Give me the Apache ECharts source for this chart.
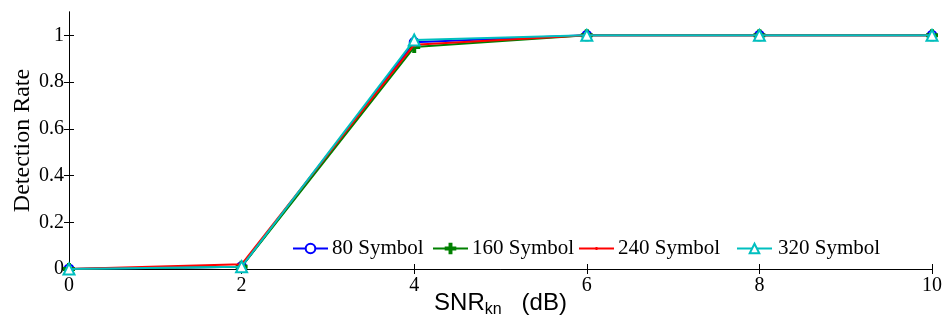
<!DOCTYPE html>
<html>
<head>
<meta charset="utf-8">
<script src="https://cdn.jsdelivr.net/npm/echarts@6/dist/echarts.min.js"></script>
<style>
  html, body { margin: 0; padding: 0; background: #fff; }
  #chart { width: 942px; height: 325px; }
</style>
</head>
<body>
<div id="chart"></div>
<script>
// SNR values (dB) on the x axis
const snr = [0, 2, 4, 6, 8, 10];
// Detection rate for each frame length
const rate80 = [0, 0.01, 0.97, 1, 1, 1];
const rate160 = [0, 0.01, 0.95, 1, 1, 1];
const rate240 = [0, 0.02, 0.96, 1, 1, 1];
const rate320 = [0, 0.01, 0.98, 1, 1, 1];
const seriesNames = ['80 Symbol', '160 Symbol', '240 Symbol', '320 Symbol'];
const xTicks = [0, 2, 4, 6, 8, 10];
const yTicks = [0, 0.2, 0.4, 0.6, 0.8, 1];

const serif = 'Liberation Serif';
const sans = 'Liberation Sans';
const chart = echarts.init(document.getElementById('chart'));

function pairs(vals) { return snr.map((x, i) => [x, vals[i]]); }

const styles = [
  { color: '#0000ff', symbol: 'circle', size: 9, fill: '#fff' },
  { color: '#008000', symbol: 'path://M4,0 L6,0 L6,4 L10,4 L10,6 L6,6 L6,10 L4,10 L4,6 L0,6 L0,4 L4,4 Z', size: 10, fill: '#008000' },
  { color: '#ff0000', symbol: 'circle', size: 3, fill: '#ff0000' },
  { color: '#00bfbf', symbol: 'triangle', size: 11, fill: '#fff' }
];
const data = [rate80, rate160, rate240, rate320];

const tickStyle = (vals) => ({
  show: true, inside: true, length: 5, customValues: vals,
  lineStyle: { color: '#000', width: 1 }
});
const lineStyle = { show: true, lineStyle: { color: '#000', width: 1 } };

// one legend box per entry so each can sit at its own offset
const legendLefts = [292, 432, 579, 736];
// the point marker is too small to show at legend scale, so draw line + dot
// (the degenerate edges at y=0 and y=12 keep the icon box at full height)
const dotLineIcon = 'path://M0,0 L35,0 L35,0 Z M0,12 L35,12 L35,12 Z ' +
  'M0,5 L35,5 L35,7 L0,7 Z M16.5,4.5 L18.5,4.5 L18.5,7.5 L16.5,7.5 Z';
const legends = seriesNames.map((name, i) => ({
  data: [i === 2
    ? { name, icon: dotLineIcon, itemStyle: { color: '#ff0000', borderWidth: 0 } }
    : name],
  left: legendLefts[i],
  top: 238,
  itemWidth: 35,
  itemHeight: 12,
  padding: 0,
  textStyle: { fontFamily: serif, fontSize: 21, color: '#000', padding: [0, 0, 0, i === 3 ? 1 : -1] }
}));

chart.setOption({
  animation: false,
  grid: { left: 69, right: 10, top: 12, bottom: 56, show: false, outerBoundsMode: 'none', containLabel: false },
  legend: legends,
  xAxis: [{
    type: 'value', min: 0, max: 10, interval: 2,
    axisLine: lineStyle,
    axisTick: tickStyle(xTicks),
    axisLabel: { fontFamily: serif, fontSize: 20, color: '#000', margin: 7, customValues: xTicks },
    splitLine: { show: false },
    name: '{m|SNR}{s|kn}{m|   (dB)}',
    nameLocation: 'middle',
    nameGap: 19,
    nameMoveOverlap: false,
    nameTextStyle: {
      rich: {
        m: { fontFamily: sans, fontSize: 24, color: '#000' },
        s: { fontFamily: sans, fontSize: 16, color: '#000', verticalAlign: 'bottom', padding: [14, 0, 0, 0] }
      }
    }
  }, {
    type: 'value', min: 0, max: 10, interval: 2, position: 'top',
    axisLine: lineStyle,
    axisTick: tickStyle(xTicks),
    axisLabel: { show: false },
    splitLine: { show: false }
  }],
  yAxis: [{
    type: 'value', min: 0, max: 1.1, interval: 0.2,
    axisLine: lineStyle,
    axisTick: tickStyle(yTicks),
    axisLabel: {
      fontFamily: serif, fontSize: 20, color: '#000', margin: 5,
      customValues: yTicks,
      formatter: v => String(+v.toFixed(1))
    },
    splitLine: { show: false },
    name: 'Detection Rate',
    nameLocation: 'middle',
    nameGap: 34,
    nameMoveOverlap: false,
    nameTextStyle: { fontFamily: serif, fontSize: 24, color: '#000' }
  }, {
    type: 'value', min: 0, max: 1.1, interval: 0.2, position: 'right',
    axisLine: lineStyle,
    axisTick: tickStyle(yTicks),
    axisLabel: { show: false },
    splitLine: { show: false }
  }],
  series: data.map((vals, i) => ({
    name: seriesNames[i],
    type: 'line',
    data: pairs(vals),
    symbol: styles[i].symbol,
    symbolSize: styles[i].size,
    showAllSymbol: true,
    lineStyle: { color: styles[i].color, width: 2 },
    itemStyle: { color: styles[i].fill, borderColor: styles[i].color, borderWidth: 2 },
    emphasis: { disabled: true },
    z: 2 + i
  }))
});
</script>
</body>
</html>
